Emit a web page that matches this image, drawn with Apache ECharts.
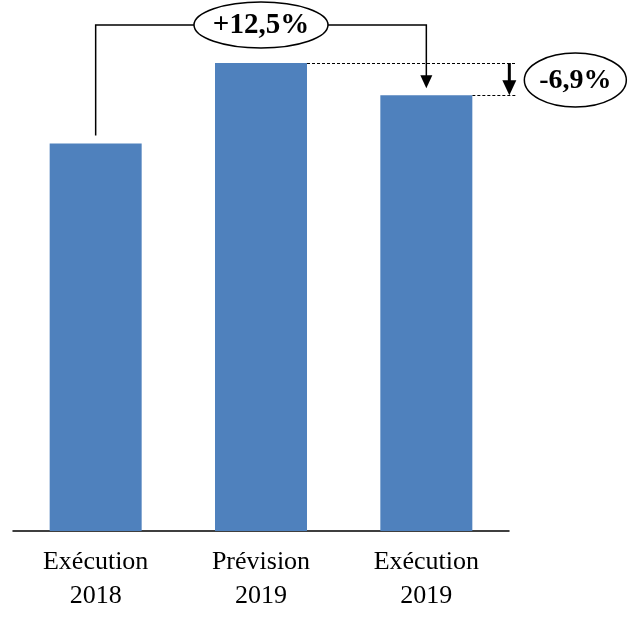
<!DOCTYPE html>
<html><head><meta charset="utf-8">
<script src="https://cdn.jsdelivr.net/npm/echarts@6/dist/echarts.min.js"></script>
<style>html,body{margin:0;padding:0;background:#fff}#c{width:631px;height:629px}</style>
</head><body><div id="c"></div>
<script>
const categories = ['Exécution\n2018', 'Prévision\n2019', 'Exécution\n2019'];
const values = [100, 120.8, 112.5];
const changeLabels = ['+12,5%', '-6,9%'];

const chart = echarts.init(document.getElementById('c'), null, {renderer: 'canvas'});
const FONT = '"Liberation Serif", "DejaVu Serif", serif';
chart.setOption({
  animation: false,
  grid: {left: 13, right: 122, top: 63, bottom: 98},
  xAxis: {
    type: 'category', data: categories,
    axisLine: {lineStyle: {color: '#000', width: 1.5}},
    axisTick: {show: false},
    axisLabel: {color: '#000', fontFamily: FONT, fontSize: 26, lineHeight: 34, margin: 14}
  },
  yAxis: {type: 'value', min: 0, max: v => v.max, show: false, splitLine: {show: false}},
  series: [{type: 'bar', data: values, barWidth: 92, itemStyle: {color: '#4F81BD'}}]
});

const p = i => chart.convertToPixel({seriesIndex: 0}, [i, values[i]]);
const p0 = p(0), p1 = p(1), p2 = p(2);
const half = 46;
const yTop = 25;
const e1 = {cx: p1[0], cy: yTop, rx: 67, ry: 23};
const dashX = p2[0] + half + 40;
const e2 = {cx: dashX + 63, cy: (p1[1] + p2[1]) / 2 + 1, rx: 51, ry: 27};
const arrowX = dashX - 3;
const d1 = Math.round(p1[1]) + 0.5, d2 = Math.round(p2[1]) + 0.5;

chart.setOption({
  graphic: [
    {type: 'polyline', shape: {points: [[p0[0], p0[1] - 8], [p0[0], yTop], [e1.cx - e1.rx, yTop]]}, style: {stroke: '#000', lineWidth: 1.5, fill: null}},
    {type: 'polyline', shape: {points: [[e1.cx + e1.rx, yTop], [p2[0], yTop], [p2[0], p2[1] - 18]]}, style: {stroke: '#000', lineWidth: 1.5, fill: null}},
    {type: 'polygon', shape: {points: [[p2[0] - 6, p2[1] - 20], [p2[0] + 6, p2[1] - 20], [p2[0], p2[1] - 7]]}, style: {fill: '#000'}},
    {type: 'ellipse', shape: e1, style: {fill: '#fff', stroke: '#000', lineWidth: 1.5}},
    {type: 'text', x: e1.cx, y: e1.cy + 1, style: {text: changeLabels[0], font: 'bold 29px ' + FONT, fill: '#000', align: 'center', verticalAlign: 'middle'}},
    {type: 'line', shape: {x1: p1[0] + half, y1: d1, x2: dashX + 3, y2: d1}, style: {stroke: '#000', lineWidth: 1, lineDash: [3, 2]}},
    {type: 'line', shape: {x1: p2[0] + half, y1: d2, x2: dashX + 3, y2: d2}, style: {stroke: '#000', lineWidth: 1, lineDash: [3, 2]}},
    {type: 'line', shape: {x1: arrowX, y1: p1[1], x2: arrowX, y2: p2[1] - 12}, style: {stroke: '#000', lineWidth: 3}},
    {type: 'polygon', shape: {points: [[arrowX - 7, p2[1] - 15], [arrowX + 7, p2[1] - 15], [arrowX, p2[1]]]}, style: {fill: '#000'}},
    {type: 'ellipse', shape: e2, style: {fill: '#fff', stroke: '#000', lineWidth: 1.5}},
    {type: 'text', x: e2.cx, y: e2.cy + 1, style: {text: changeLabels[1], font: 'bold 28px ' + FONT, fill: '#000', align: 'center', verticalAlign: 'middle'}}
  ]
});
</script></body></html>
